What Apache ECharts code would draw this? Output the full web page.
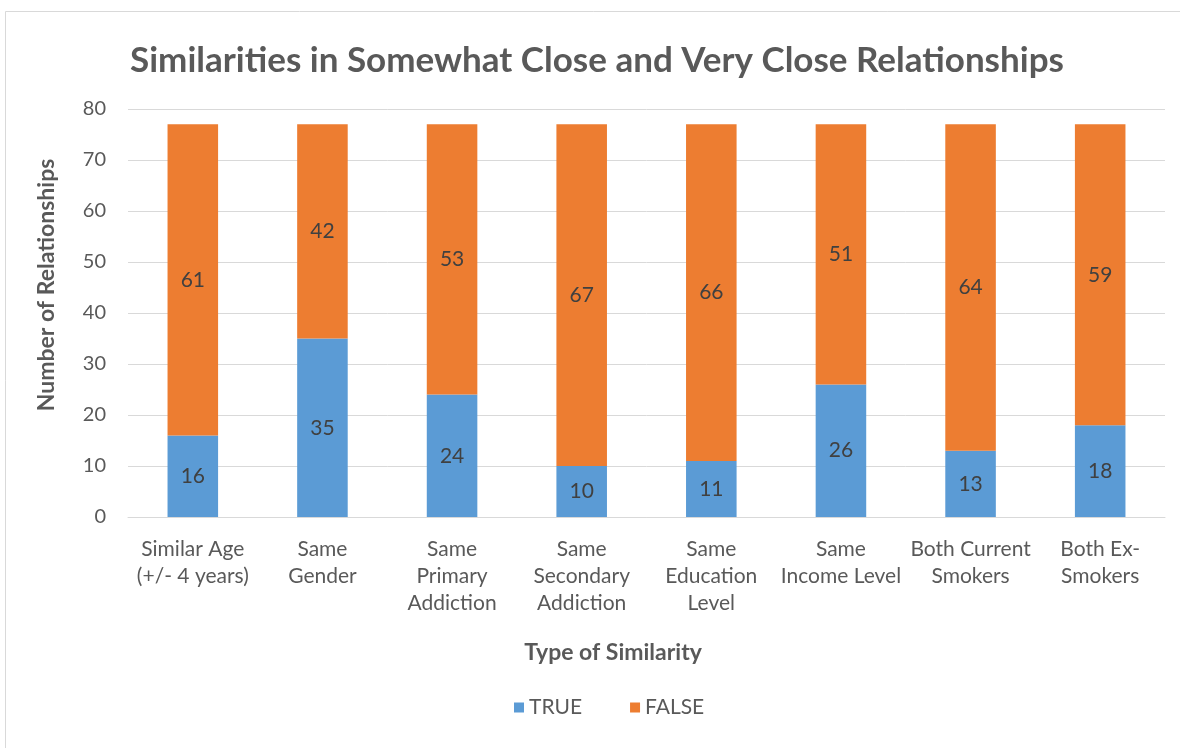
<!DOCTYPE html>
<html>
<head>
<meta charset="utf-8">
<script src="https://cdn.jsdelivr.net/npm/echarts@6/dist/echarts.min.js"></script>
<style>html,body{margin:0;padding:0;background:#fff;}#c{width:1180px;height:748px;}</style>
</head>
<body>
<div id="c"></div>
<script>
const categories = ["Similar Age\n(+/- 4 years)", "Same\nGender", "Same\nPrimary\nAddiction", "Same\nSecondary\nAddiction", "Same\nEducation\nLevel", "Same\nIncome Level", "Both Current\nSmokers", "Both Ex-\nSmokers"];
const trueValues = [16, 35, 24, 10, 11, 26, 13, 18];
const falseValues = [61, 42, 53, 67, 66, 51, 64, 59];
const yTicks = [0, 10, 20, 30, 40, 50, 60, 70, 80];

const FONT = 'Lato';
const chart = echarts.init(document.getElementById('c'), null, {renderer: 'canvas'});
const labelStyle = {show: true, position: 'inside', color: '#404040', fontSize: 21, fontFamily: FONT};
chart.setOption({
  animation: false,
  backgroundColor: '#fff',
  title: {
    text: 'Similarities in Somewhat Close and Very Close Relationships',
    left: 592, top: 38, textAlign: 'center',
    textStyle: {fontFamily: FONT, fontWeight: 'bold', fontSize: 35, color: '#595959'}
  },
  legend: {
    data: ['TRUE', 'FALSE'],
    left: 509, top: 692,
    itemWidth: 10, itemHeight: 10, itemGap: 48,
    icon: 'rect',
    textStyle: {fontFamily: FONT, fontSize: 21, color: '#595959'}
  },
  grid: {left: 128, right: 15, top: 109, bottom: 231},
  xAxis: {
    type: 'category',
    data: categories,
    axisLine: {lineStyle: {color: '#d9d9d9'}},
    axisTick: {show: false},
    axisLabel: {interval: 0, margin: 19, lineHeight: 27, fontSize: 21, fontFamily: FONT, color: '#595959'}
  },
  yAxis: {
    type: 'value', min: yTicks[0], max: yTicks[yTicks.length - 1], interval: 10,
    axisLine: {show: false}, axisTick: {show: false},
    splitLine: {lineStyle: {color: '#d9d9d9'}},
    axisLabel: {margin: 22, fontSize: 20, fontFamily: FONT, color: '#595959'}
  },
  graphic: [
    {type: 'rect', silent: true, shape: {x: 5.5, y: 11.5, width: 1200, height: 800}, style: {fill: 'none', stroke: '#d9d9d9', lineWidth: 1}},
    {type: 'text', x: 47, y: 285, rotation: Math.PI / 2, style: {text: 'Number of Relationships', textAlign: 'center', textVerticalAlign: 'middle', font: 'bold 23px ' + FONT, fill: '#595959'}},
    {type: 'text', x: 613, y: 653, style: {text: 'Type of Similarity', textAlign: 'center', textVerticalAlign: 'middle', font: 'bold 23px ' + FONT, fill: '#595959'}}
  ],
  series: [
    {name: 'TRUE', type: 'bar', stack: 'total', barWidth: '39%', data: trueValues, itemStyle: {color: '#5B9BD5'}, label: labelStyle},
    {name: 'FALSE', type: 'bar', stack: 'total', barWidth: '39%', data: falseValues, itemStyle: {color: '#ED7D31'}, label: labelStyle}
  ]
});
</script>
</body>
</html>
